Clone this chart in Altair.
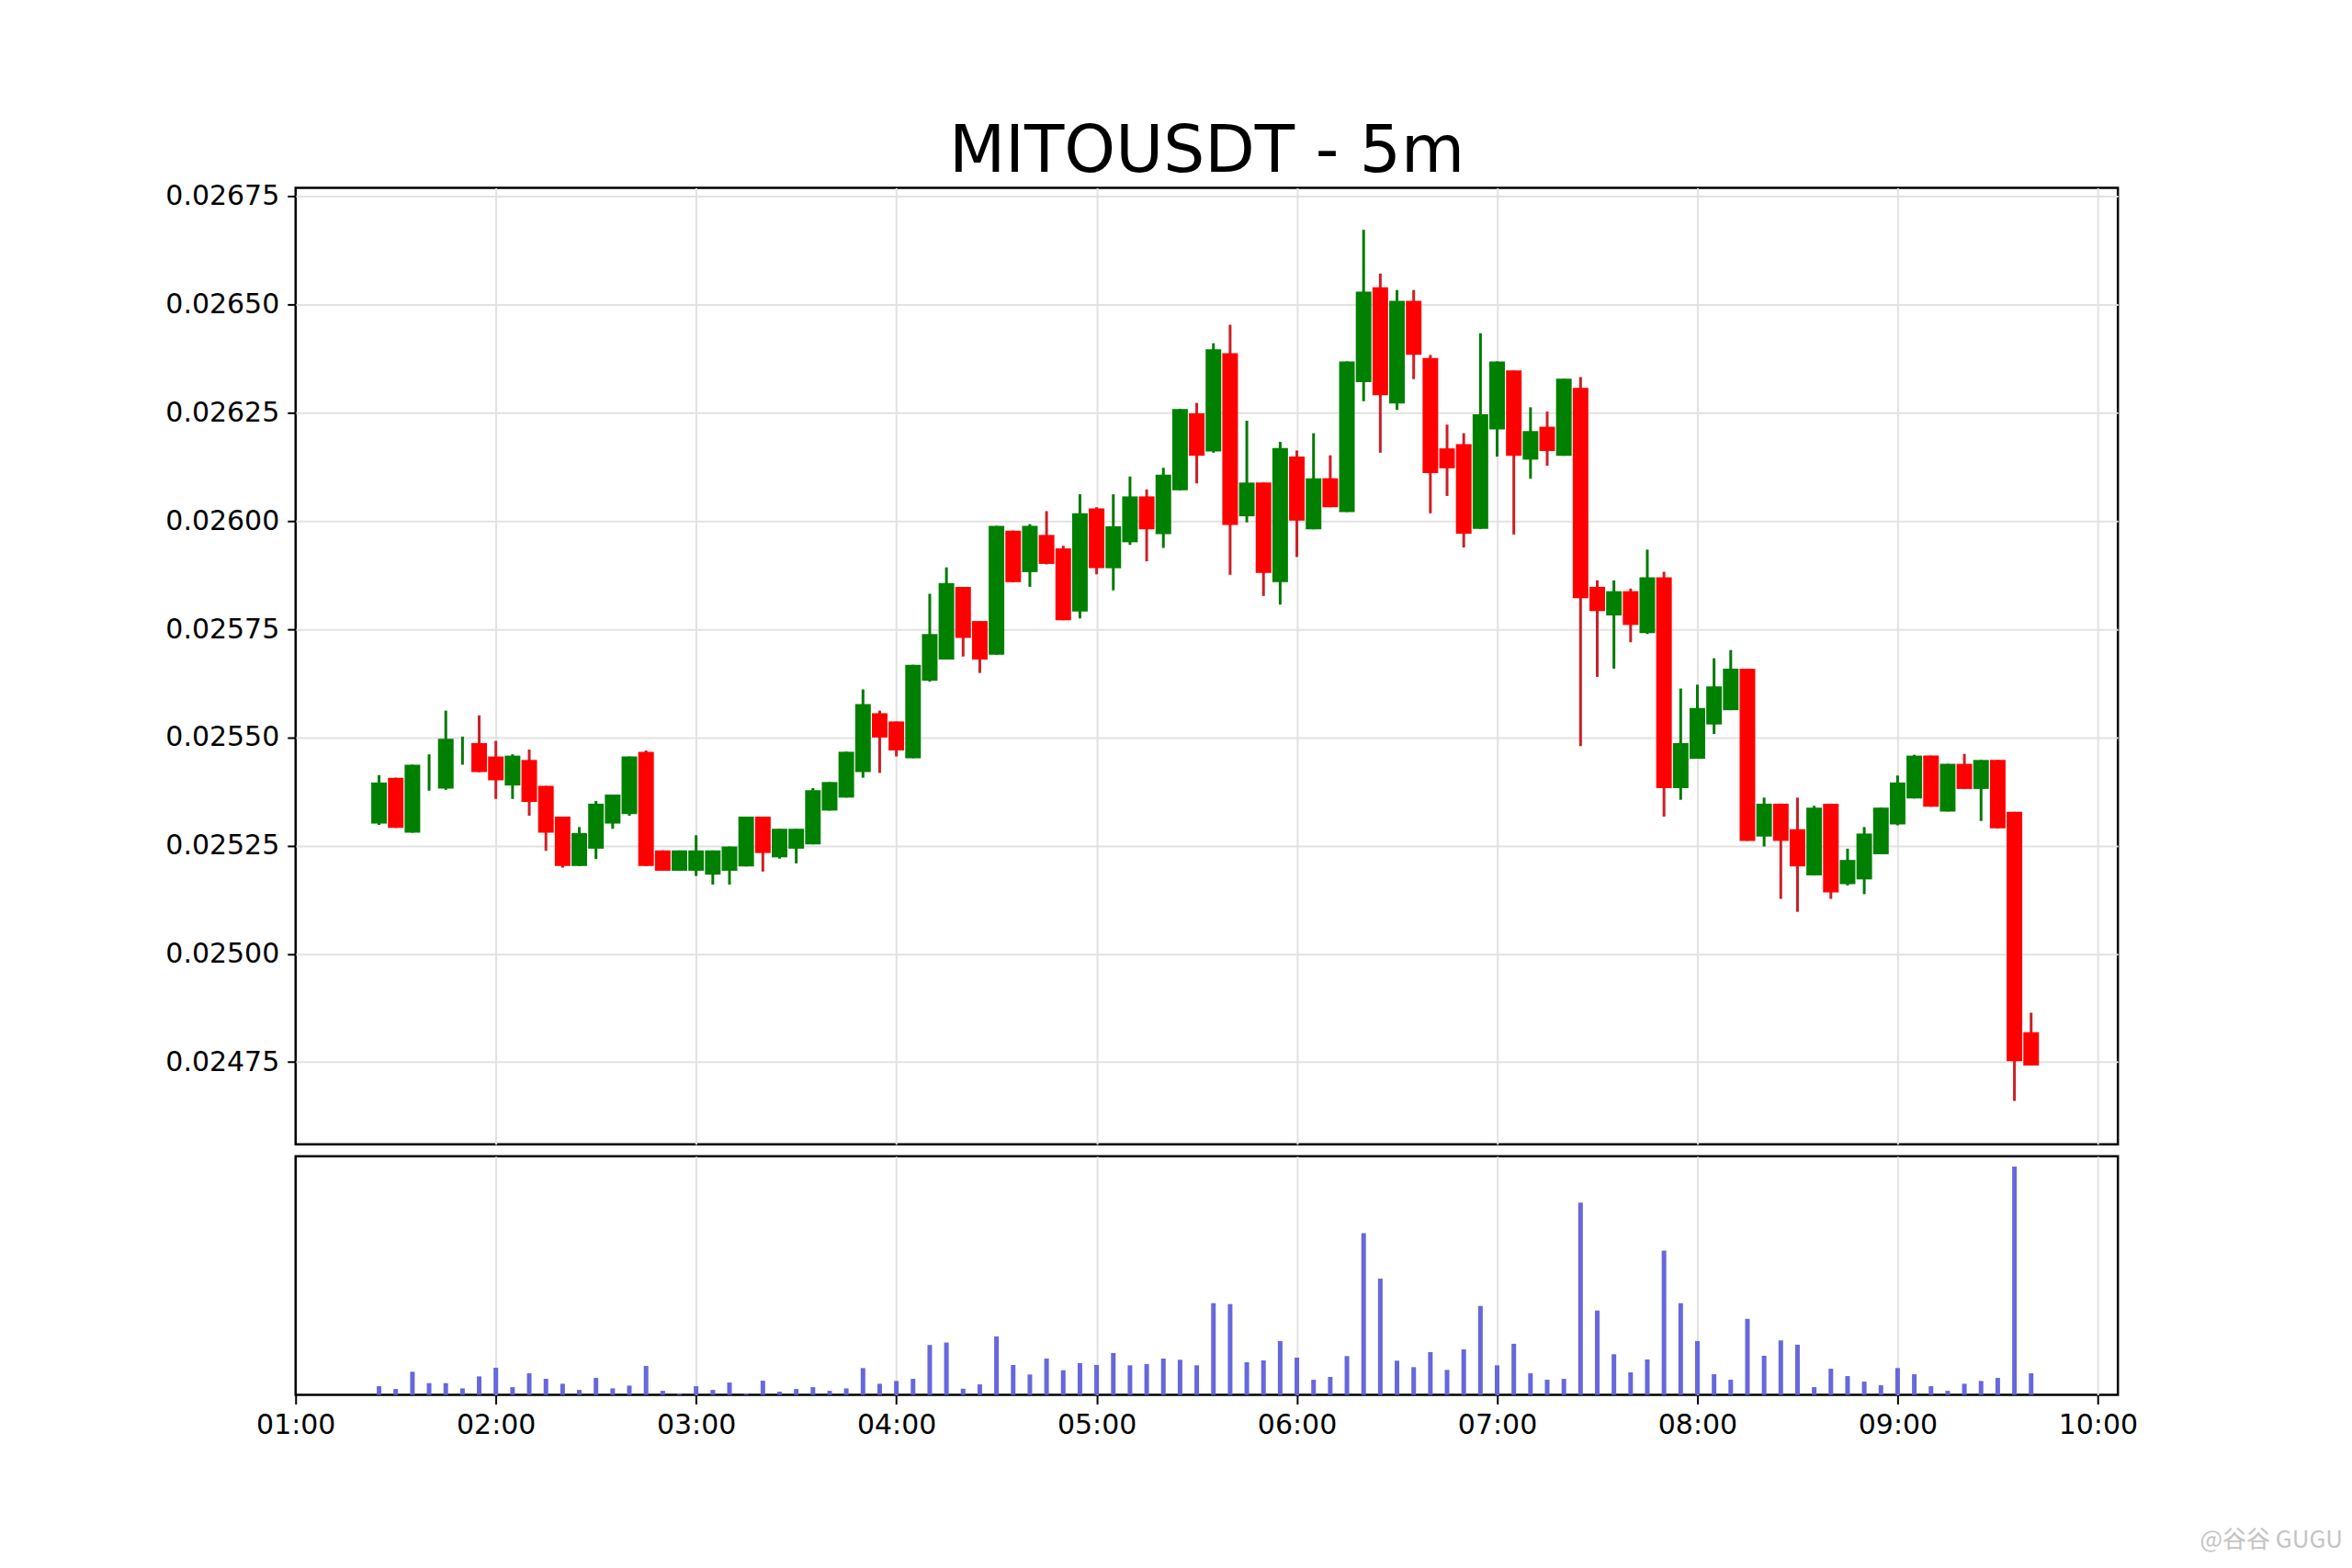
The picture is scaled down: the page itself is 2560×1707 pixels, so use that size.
import altair as alt
import pandas as pd

# ---------------- data ----------------
first_time = "2025-01-01 01:25"
n_candles = 100
times = [t.strftime("%H:%M") for t in pd.date_range(first_time, periods=n_candles, freq="5min")]

opens = [
    0.025301, 0.025407, 0.025280, 0.025440, 0.025382, 0.025490, 0.025487,
    0.025456, 0.025389, 0.025448, 0.025388, 0.025317, 0.025203, 0.025243, 0.025301, 0.025323, 0.025467, 0.025239, 0.025192,
    0.025192, 0.025183, 0.025192, 0.025202, 0.025317, 0.025223, 0.025243, 0.025253, 0.025331, 0.025361, 0.025420, 0.025556,
    0.025537, 0.025452, 0.025631, 0.025680, 0.025848, 0.025769, 0.025691, 0.025978, 0.025882, 0.025968, 0.025937, 0.025791,
    0.026029, 0.025891, 0.025951, 0.026057, 0.025970, 0.026071, 0.026249, 0.026161, 0.026388, 0.026011, 0.026089, 0.025859,
    0.026149, 0.025981, 0.026099, 0.026021, 0.026321, 0.026540, 0.026272, 0.026509, 0.026377, 0.026168, 0.026178, 0.025982,
    0.026212, 0.026348, 0.026142, 0.026218, 0.026151, 0.026308, 0.025848, 0.025782, 0.025838, 0.025741, 0.025870, 0.025383,
    0.025451, 0.025530, 0.025563, 0.025659, 0.025271, 0.025347, 0.025288, 0.025181, 0.025347, 0.025161, 0.025172, 0.025230,
    0.025299, 0.025359, 0.025458, 0.025329, 0.025439, 0.025381, 0.025448, 0.025328, 0.024819,
]
highs = [
    0.025413, 0.025407, 0.025437, 0.025461, 0.025562, 0.025502, 0.025551,
    0.025492, 0.025461, 0.025472, 0.025388, 0.025317, 0.025293, 0.025353, 0.025368, 0.025456, 0.025470, 0.025239, 0.025239,
    0.025274, 0.025239, 0.025248, 0.025317, 0.025317, 0.025289, 0.025289, 0.025383, 0.025397, 0.025467, 0.025611, 0.025562,
    0.025537, 0.025668, 0.025832, 0.025893, 0.025848, 0.025769, 0.025989, 0.025978, 0.025993, 0.026023, 0.025943, 0.026062,
    0.026032, 0.026062, 0.026103, 0.026073, 0.026123, 0.026259, 0.026273, 0.026411, 0.026454, 0.026232, 0.026089, 0.026183,
    0.026163, 0.026203, 0.026152, 0.026369, 0.026673, 0.026572, 0.026534, 0.026534, 0.026384, 0.026223, 0.026203, 0.026434,
    0.026369, 0.026348, 0.026263, 0.026253, 0.026329, 0.026333, 0.025863, 0.025863, 0.025844, 0.025934, 0.025883, 0.025613,
    0.025622, 0.025683, 0.025702, 0.025659, 0.025361, 0.025347, 0.025361, 0.025342, 0.025347, 0.025243, 0.025293, 0.025338,
    0.025412, 0.025460, 0.025458, 0.025439, 0.025462, 0.025448, 0.025448, 0.025328, 0.024864,
]
lows = [
    0.025298, 0.025291, 0.025280, 0.025377, 0.025379, 0.025437, 0.025420,
    0.025358, 0.025358, 0.025319, 0.025238, 0.025199, 0.025203, 0.025219, 0.025289, 0.025319, 0.025203, 0.025192, 0.025192,
    0.025180, 0.025160, 0.025160, 0.025202, 0.025190, 0.025220, 0.025209, 0.025253, 0.025331, 0.025361, 0.025407, 0.025418,
    0.025456, 0.025452, 0.025629, 0.025680, 0.025687, 0.025649, 0.025691, 0.025859, 0.025848, 0.025900, 0.025771, 0.025775,
    0.025877, 0.025840, 0.025945, 0.025907, 0.025938, 0.026071, 0.026087, 0.026158, 0.025876, 0.025997, 0.025827, 0.025807,
    0.025917, 0.025981, 0.026032, 0.026021, 0.026277, 0.026158, 0.026257, 0.026328, 0.026018, 0.026058, 0.025939, 0.025982,
    0.026149, 0.025969, 0.026098, 0.026128, 0.026151, 0.025480, 0.025640, 0.025659, 0.025720, 0.025739, 0.025317, 0.025356,
    0.025451, 0.025508, 0.025563, 0.025261, 0.025248, 0.025127, 0.025097, 0.025181, 0.025127, 0.025158, 0.025138, 0.025230,
    0.025297, 0.025359, 0.025340, 0.025329, 0.025381, 0.025307, 0.025290, 0.024660, 0.024742,
]
closes = [
    0.025396, 0.025291, 0.025437, 0.025440, 0.025497, 0.025490, 0.025420,
    0.025401, 0.025458, 0.025351, 0.025280, 0.025203, 0.025279, 0.025347, 0.025368, 0.025456, 0.025203, 0.025192, 0.025239,
    0.025239, 0.025239, 0.025248, 0.025317, 0.025233, 0.025289, 0.025289, 0.025378, 0.025397, 0.025467, 0.025577, 0.025500,
    0.025470, 0.025668, 0.025739, 0.025857, 0.025730, 0.025680, 0.025989, 0.025859, 0.025989, 0.025901, 0.025771, 0.026018,
    0.025891, 0.025988, 0.026057, 0.025981, 0.026107, 0.026259, 0.026151, 0.026397, 0.025991, 0.026089, 0.025880, 0.026169,
    0.026001, 0.026099, 0.026032, 0.026369, 0.026530, 0.026291, 0.026509, 0.026384, 0.026111, 0.026122, 0.025971, 0.026247,
    0.026369, 0.026151, 0.026208, 0.026162, 0.026329, 0.025822, 0.025792, 0.025838, 0.025760, 0.025870, 0.025383, 0.025487,
    0.025568, 0.025618, 0.025659, 0.025261, 0.025347, 0.025261, 0.025202, 0.025338, 0.025142, 0.025217, 0.025278, 0.025338,
    0.025396, 0.025458, 0.025340, 0.025439, 0.025381, 0.025448, 0.025290, 0.024752, 0.024742,
]
volumes = [
    28, 19, 75, 38, 38, 21, 60,
    88, 25, 70, 52, 36, 16, 55, 21, 30, 94, 13, 4,
    28, 16, 40, 4, 46, 10, 19, 25, 13, 21, 87, 36,
    45, 52, 162, 170, 20, 34, 190, 97, 66, 118, 80, 103,
    97, 136, 96, 100, 118, 114, 96, 298, 295, 106, 112, 175,
    121, 49, 58, 126, 526, 378, 111, 90, 139, 81, 148, 289,
    96, 166, 70, 49, 52, 625, 274, 132, 73, 115, 469, 298,
    175, 67, 49, 247, 127, 177, 163, 25, 85, 61, 43, 31,
    87, 67, 28, 13, 36, 45, 55, 742, 70,
]
price_ticks = [0.02475, 0.02500, 0.02525, 0.02550, 0.02575, 0.02600, 0.02625, 0.02650, 0.02675]
time_ticks = ["01:00", "02:00", "03:00", "04:00", "05:00", "06:00", "07:00", "08:00", "09:00", "10:00"]
title_text = "MITOUSDT - 5m"
watermark_text = "@谷谷 GUGU"

# ---------------- table ----------------
def to_minutes(s):
    h, m = s.split(":")
    return int(h) * 60 + int(m)

df = pd.DataFrame({
    "t": [to_minutes(s) for s in times],
    "time": times,
    "open": opens, "high": highs, "low": lows, "close": closes,
    "volume": volumes,
})
df["dir"] = ["up" if c >= o else "down" for o, c in zip(opens, closes)]

tick_minutes = [to_minutes(s) for s in time_ticks]

FONT = "DejaVu Sans"
GRID = "#e2e2e2"
W = 1985
X0, X1 = 60, 606
label_expr = "(floor(datum.value/60) < 10 ? '0' : '') + floor(datum.value/60) + ':00'"
# hide the grid line that would sit on the left frame edge
grid_opacity = {"condition": {"test": f"datum.value <= {X0}", "value": 0}, "value": 1}

x_scale = alt.Scale(domain=[X0, X1], nice=False, zero=False, padding=0)

base = alt.Chart(df)

wicks = base.mark_rule(strokeWidth=3).encode(
    x=alt.X("t:Q", scale=x_scale,
            axis=alt.Axis(values=tick_minutes, labels=False, ticks=False, domain=False,
                          grid=True, gridColor=GRID, gridWidth=2, gridOpacity=grid_opacity,
                          title=None)),
    y=alt.Y("low:Q", scale=alt.Scale(domain=[0.02456, 0.02677], nice=False, zero=False, padding=0),
            axis=alt.Axis(values=price_ticks, format=".5f", labelFont=FONT, labelFontSize=30,
                          labelColor="black", tickColor="black", tickSize=9, tickWidth=2,
                          labelPadding=9, domain=False, grid=True, gridColor=GRID,
                          gridWidth=2, title=None)),
    y2="high:Q",
    color=alt.Color("dir:N", scale=alt.Scale(domain=["up", "down"], range=["#007a00", "#cc1f26"]),
                    legend=None),
)

bodies = base.mark_bar(size=17).encode(
    x=alt.X("t:Q", scale=x_scale),
    y=alt.Y("open:Q"),
    y2="close:Q",
    color=alt.Color("dir:N", scale=alt.Scale(domain=["up", "down"], range=["#008000", "#ff0000"]),
                    legend=None),
)

price = alt.layer(wicks, bodies).resolve_scale(color="independent").properties(
    width=W, height=1042,
    title=alt.TitleParams(text=title_text, font=FONT, fontSize=71, fontWeight="normal",
                          color="black", anchor="middle", offset=-3),
)

vol_bars = base.mark_bar(size=5, color="#6767dd").encode(
    x=alt.X("t:Q", scale=x_scale,
            axis=alt.Axis(values=tick_minutes, labelExpr=label_expr, labelFont=FONT,
                          labelFontSize=30, labelColor="black", tickColor="black",
                          tickSize=10, tickWidth=2, labelPadding=8, labelFlush=False,
                          labelOverlap=False, domain=False, grid=True, gridColor=GRID,
                          gridWidth=2, gridOpacity=grid_opacity, title=None)),
    y=alt.Y("volume:Q", scale=alt.Scale(domain=[0, 776], nice=False, padding=0), axis=None),
)

watermark = alt.Chart(pd.DataFrame({"label": [watermark_text]})).mark_text(
    align="right", baseline="middle", fontSize=26, color="#c4c4c4", font="Noto Sans CJK SC"
).encode(x=alt.value(W + 245), y=alt.value(419), text="label:N")

volume = alt.layer(vol_bars, watermark).properties(width=W, height=260)

chart = alt.vconcat(price, volume, spacing=9).properties(
    padding={"left": 170, "top": 120, "right": 0, "bottom": 0},
    background="white",
).configure_view(stroke="black", strokeWidth=2.5)

chart.save("out.html", embed_options={"renderer": "svg", "actions": False})
